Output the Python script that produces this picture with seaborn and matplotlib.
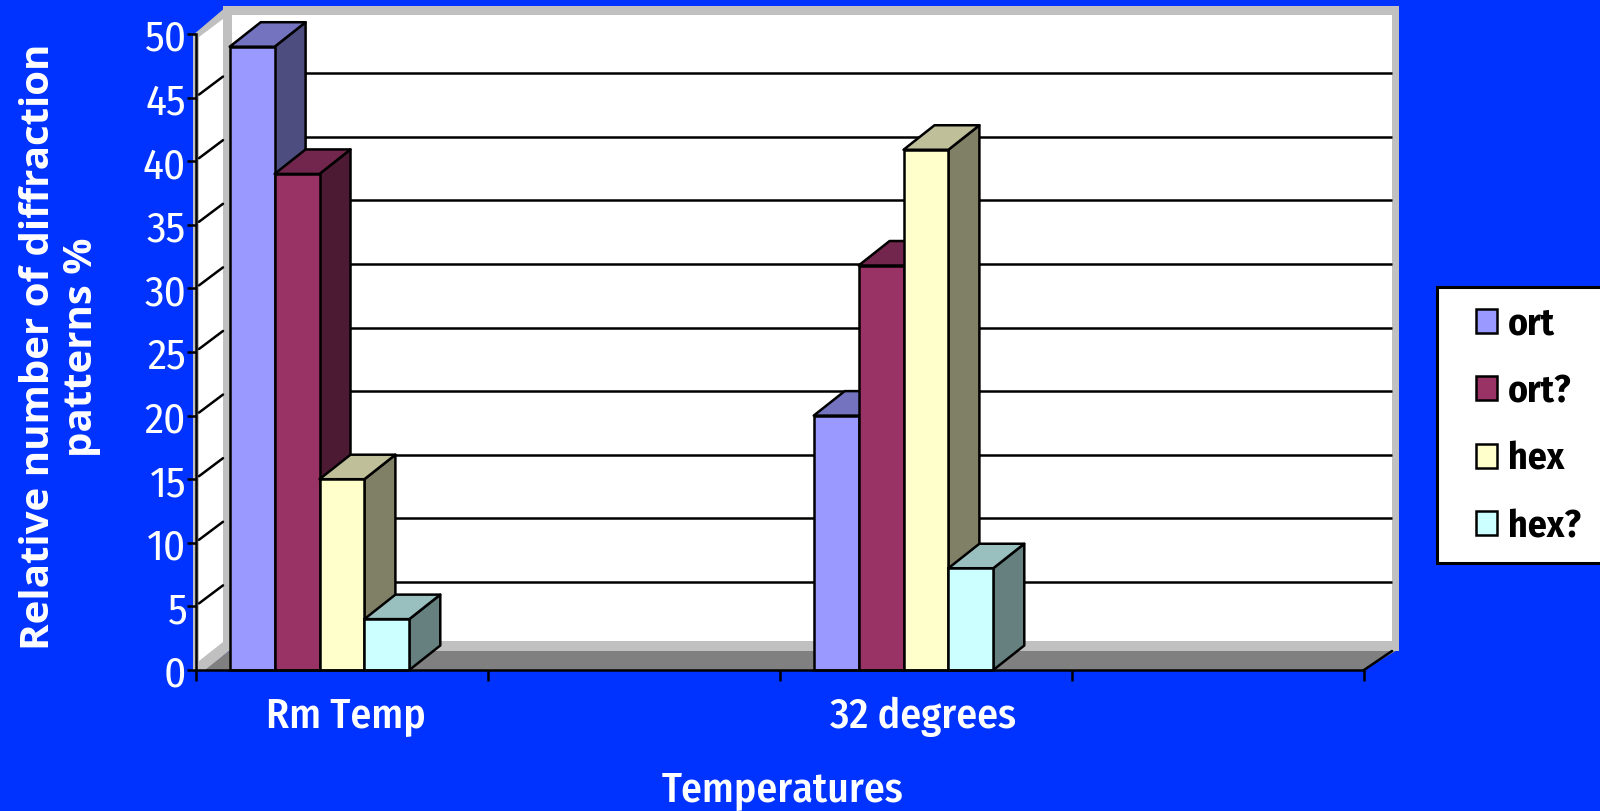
#!/usr/bin/env python3
"""
Relative number of diffraction patterns per temperature, old-style 3D bars.
"""

import numpy as np
import pandas as pd
import matplotlib
matplotlib.use("Agg")
import matplotlib.pyplot as plt
import matplotlib.transforms as mtransforms
from matplotlib.legend_handler import HandlerPatch
from matplotlib.patches import Polygon, Rectangle
import seaborn as sns

temperatures = ["Rm Temp", " ", "32 degrees", "  "]
patterns = ["ort", "ort?", "hex", "hex?"]
rm_temp_values = [49, 39, 15, 4]
degrees_32_values = [20, 31.8, 40.9, 8]
y_ticks = [0, 5, 10, 15, 20, 25, 30, 35, 40, 45, 50]
bar_colors = ["#9999FF", "#993366", "#FFFFCC", "#CCFFFF"]

BLUE = "#0033FF"
GREY = "#C0C0C0"
NARROW = ["Fira Sans Condensed", "Archivo Narrow", "Liberation Sans", "DejaVu Sans"]
LW = 1.8

df = pd.DataFrame({
    "temperature": ["Rm Temp"] * 4 + ["32 degrees"] * 4,
    "pattern": patterns * 2,
    "percent": rm_temp_values + degrees_32_values,
})

sns.set_theme(style="white")
fig = plt.figure(figsize=(16, 8.12), dpi=100, facecolor=BLUE)
ax = fig.add_axes([196 / 1600, (812 - 671) / 812, 1168 / 1600, 636 / 812])
ax.patch.set_alpha(0)
ax.set_zorder(1)

sns.barplot(data=df, x="temperature", y="percent", hue="pattern",
            order=temperatures, hue_order=patterns, palette=bar_colors,
            saturation=1, width=0.615, gap=0, edgecolor="black", linewidth=LW,
            errorbar=None, ax=ax)

x_left = -(319.5 - 196) / 292
ax.set_xlim(x_left, x_left + 4)
ax.set_ylim(0, 50)

# depth of the fake 3D, in data units
depth_x = 31 / 292
depth_y = 24.5 / (636 / 50)

# walls and floor are layout, given in reference pixels
px = mtransforms.Affine2D().scale(1, -1).translate(0, 812)


def wall(points, color, zorder=0.5):
    fig.add_artist(Polygon(points, closed=True, facecolor=color, edgecolor="none",
                           transform=px, zorder=zorder))


wall([(223, 7), (1399, 7), (1399, 652), (223, 652)], GREY)
wall([(232, 16), (1392, 16), (1392, 642), (232, 642)], "white")
wall([(193, 36), (226, 8), (229, 652), (205, 672), (193, 672)], GREY)
wall([(199, 38), (223, 20), (223, 643), (199, 662)], "white")
wall([(205, 671), (229, 652), (1396, 652), (1364, 671)], "#808080")
fig.add_artist(plt.Line2D([1364, 1392], [671, 652], color="black", lw=LW,
                          transform=px, zorder=0.6))

# gridlines on the back and the side wall
side_x = [x_left + 3 / 292, x_left + 27 / 292]
for t in y_ticks[1:-1]:
    ax.hlines(t + depth_y, x_left + 36 / 292, x_left + 1196 / 292, color="black",
              lw=LW, clip_on=False, zorder=0.8)
    ax.plot(side_x, [t + 3 / 12.7, t + 21 / 12.7], color="black", lw=LW,
            clip_on=False, zorder=0.8)


def shade(color, factor):
    return tuple(np.array(matplotlib.colors.to_rgb(color)) * factor)


# side and top faces, left to right so that each bar covers its neighbour
bars = sorted([b for b in ax.patches if b.get_height() > 0], key=lambda b: b.get_x())
for i, bar in enumerate(bars):
    x0, w, h = bar.get_x(), bar.get_width(), bar.get_height()
    color = bar.get_facecolor()
    z = 2 + i * 0.1
    x1 = x0 + w
    ax.add_patch(Polygon([(x1, 0), (x1 + depth_x, depth_y), (x1 + depth_x, h + depth_y), (x1, h)],
                         facecolor=shade(color[:3], 0.5), edgecolor="black", lw=LW,
                         joinstyle="round", clip_on=False, zorder=z))
    ax.add_patch(Polygon([(x0, h), (x1, h), (x1 + depth_x, h + depth_y), (x0 + depth_x, h + depth_y)],
                         facecolor=shade(color[:3], 0.75), edgecolor="black", lw=LW,
                         joinstyle="round", clip_on=False, zorder=z + 0.01))
    bar.set_zorder(z + 0.02)
    bar.set_clip_on(False)

sns.despine(ax=ax, top=True, right=True)
for side in ["left", "bottom"]:
    ax.spines[side].set_color("black")
    ax.spines[side].set_linewidth(LW)
    ax.spines[side].set_zorder(5)

ax.set_yticks(y_ticks)
ax.set_xticks([x_left + k for k in range(5)])
ax.set_xticklabels([])
ax.tick_params(axis="y", left=True, length=6.5, width=LW, color="black", pad=0.5,
               labelsize=31, labelcolor="white")
ax.tick_params(axis="x", bottom=True, length=8, width=LW, color="black")
for lab in ax.get_yticklabels():
    lab.set_family(NARROW)

for label, pos in zip(["Rm Temp", "32 degrees"], [346, 923]):
    ax.text((pos - 196) / 292 + x_left, -46 / 12.7, label, color="white", fontsize=30,
            ha="center", va="center", family=NARROW, weight="medium", clip_on=False)

ax.set_xlabel("Temperatures", color="white", fontsize=30, family=NARROW, weight="medium")
ax.xaxis.set_label_coords((783 - 196) / 1168, (671 - 791) / 636)
ax.xaxis.label.set_va("center")
ax.set_ylabel("Relative number of diffraction\npatterns %", color="white", fontsize=29,
              family=["Open Sans", "DejaVu Sans"], weight="bold", linespacing=1.15)
ax.yaxis.set_label_coords((60 - 196) / 1168, (671 - 347) / 636)
ax.yaxis.label.set_va("center")

handles, labels = ax.get_legend_handles_labels()
leg = ax.legend(handles, labels, loc="upper left",
                bbox_to_anchor=(1437 / 1600, (812 - 288) / 812, 190 / 1600, 0),
                bbox_transform=fig.transFigure, mode="expand", borderaxespad=0,
                fancybox=False, framealpha=1, facecolor="white", edgecolor="black",
                labelcolor="black",
                prop={"family": NARROW, "weight": "bold", "size": 27},
                handler_map={Rectangle: HandlerPatch(xpad=0.56)},
                handlelength=1.12, handleheight=0.6, handletextpad=0.3,
                labelspacing=0.81, borderpad=0.48, title=None)
leg.get_frame().set_linewidth(LW + 0.4)
leg.set_zorder(10)

plt.savefig("out.png", dpi=100, facecolor=BLUE)
